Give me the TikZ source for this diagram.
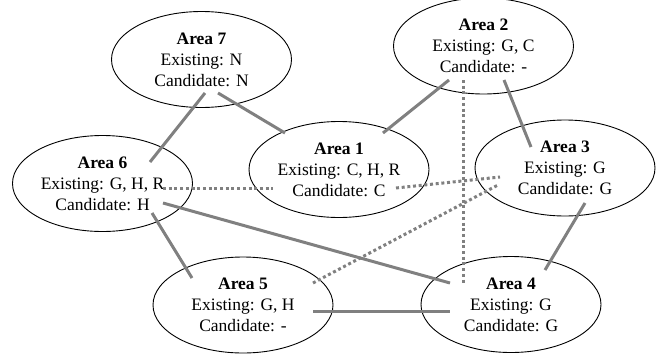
\documentclass[tikz,border=0pt]{standalone}
\usepackage{fontspec}
\setmainfont{Liberation Serif}
\usetikzlibrary{shapes.geometric,calc}
\begin{document}
\begin{tikzpicture}[x=1pt,y=-1pt,
  area/.style={ellipse,draw=black,line width=0.9pt,minimum width=180pt,minimum height=96pt,inner sep=0pt,align=center,font=\fontsize{17.5}{21}\selectfont},
  link/.style={draw=black!50,line width=3pt},
  dotlink/.style={draw=black!50,line width=3pt,dash pattern=on 3pt off 2.7pt}]
\useasboundingbox (0,0) rectangle (672,359);
\node[area] (a7) at (201.5,59.5) {\textbf{Area 7}\\Existing: N\\Candidate: N};
\node[area] (a2) at (483.5,46) {\textbf{Area 2}\\Existing: G, C\\Candidate: -};
\node[area] (a6) at (102.5,183.5) {\textbf{Area 6}\\Existing: G, H, R\\Candidate: H};
\node[area] (a1) at (339,169.5) {\textbf{Area 1}\\Existing: C, H, R\\Candidate: C};
\node[area] (a3) at (565,168) {\textbf{Area 3}\\Existing: G\\Candidate: G};
\node[area] (a5) at (243,305) {\textbf{Area 5}\\Existing: G, H\\Candidate: -};
\node[area] (a4) at (511,304.5) {\textbf{Area 4}\\Existing: G\\Candidate: G};
% solid connectors
\draw[link] ($(a7.center)+(3.5,33.5)$) -- ($(a6.center)+(47.5,-21.5)$);
\draw[link] ($(a7.center)+(16.5,33.5)$) -- ($(a1.center)+(-54,-36.5)$);
\draw[link] ($(a2.center)+(-34.5,34)$) -- ($(a1.center)+(44,-36.5)$);
\draw[link] ($(a2.center)+(20.5,34)$) -- ($(a3.center)+(-34,-21)$);
\draw[link] ($(a6.center)+(60.5,19.5)$) -- ($(a4.center)+(-61,-21.5)$);
\draw[link] ($(a6.center)+(49.5,29.5)$) -- ($(a5.center)+(-51,-27)$);
\draw[link] ($(a5.center)+(70,6)$) -- ($(a4.center)+(-61,6.5)$);
\draw[link] ($(a3.center)+(20,35)$) -- ($(a4.center)+(34,-34.5)$);
% dotted connectors
\draw[dotlink] ($(a2.center)+(-20.5,34)$) -- ($(a4.center)+(-48,-21.5)$);
\draw[dotlink] ($(a6.center)+(60.5,4.5)$) -- ($(a1.center)+(-66,18.5)$);
\draw[dotlink] ($(a1.center)+(57,18.5)$) -- ($(a3.center)+(-65,9)$);
\draw[dotlink] ($(a5.center)+(70,-22)$) -- ($(a3.center)+(-67,17)$);
\end{tikzpicture}
\end{document}
